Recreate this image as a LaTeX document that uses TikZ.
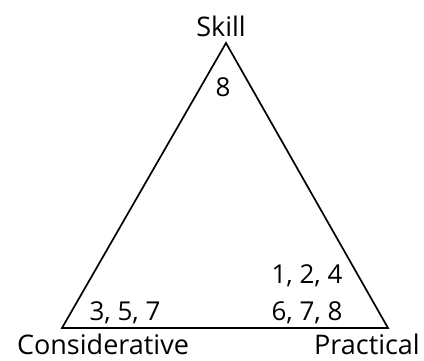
\documentclass[tikz,border=0pt]{standalone}
\usepackage{fontspec}
\setmainfont{Open Sans}
\begin{document}
\begin{tikzpicture}[x=1pt,y=1pt,
  lbl/.style={inner sep=0pt,anchor=base,font=\fontsize{27}{32}\selectfont},
  num/.style={inner sep=0pt,anchor=base,font=\fontsize{26}{30}\selectfont},
  tri/.style={line width=1.7pt,line join=miter}]
\useasboundingbox (0,0) rectangle (424,360);
\coordinate (A) at (226,317);
\coordinate (B) at (62,32);
\coordinate (C) at (388,32);
\draw[tri] (A) -- (B) -- (C) -- cycle;
\node[lbl] (skill) at (221,324) {Skill};
\node[lbl] (cons) at (103,6) {Considerative};
\node[lbl] (prac) at (367,6) {Practical};
\node[num] (n8) at (223,264) {8};
\node[num] (n357) at (125,40) {3, 5, 7};
\node[num] (n124) at (307,77) {1, 2, 4};
\node[num] (n678) at (307,40) {6, 7, 8};
\end{tikzpicture}
\end{document}
